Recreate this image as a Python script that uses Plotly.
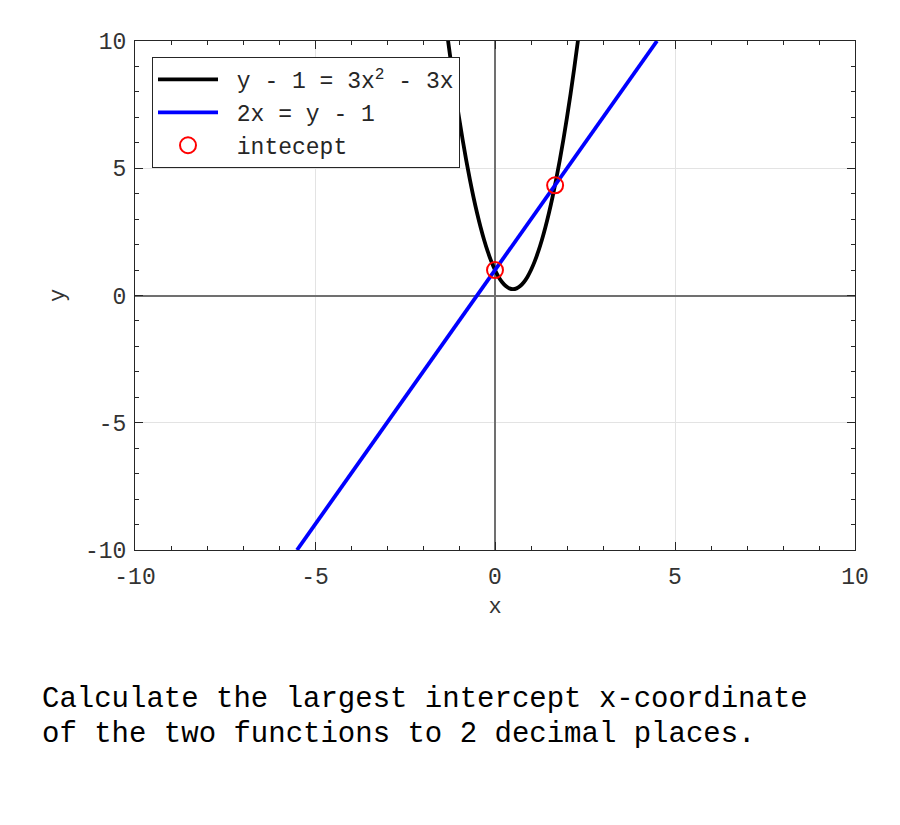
import plotly.graph_objects as go

# Parabola y - 1 = 3x^2 - 3x
curve_x = [-1.4, -1.3, -1.2, -1.1, -1.0, -0.9, -0.8, -0.7, -0.6, -0.5, -0.4, -0.3, -0.2, -0.1,
           0.0, 0.1, 0.2, 0.3, 0.4, 0.5, 0.6, 0.7, 0.8, 0.9, 1.0, 1.1, 1.2, 1.3, 1.4, 1.5,
           1.6, 1.7, 1.8, 1.9, 2.0, 2.1, 2.2, 2.3, 2.4]
curve_y = [11.08, 9.97, 8.92, 7.93, 7.0, 6.13, 5.32, 4.57, 3.88, 3.25, 2.68, 2.17, 1.72, 1.33,
           1.0, 0.73, 0.52, 0.37, 0.28, 0.25, 0.28, 0.37, 0.52, 0.73, 1.0, 1.33, 1.72, 2.17, 2.68, 3.25,
           3.88, 4.57, 5.32, 6.13, 7.0, 7.93, 8.92, 9.97, 11.08]

# Line 2x = y - 1
line_x = [-5.5, 4.5]
line_y = [-10.0, 10.0]

# Intercepts
int_x = [0.0, 1.67]
int_y = [1.0, 4.33]

tick_vals = [-10, -5, 0, 5, 10]
tick_text = ["-10", "-5", "0", "5", "10"]

series_names = ["y - 1 = 3x<sup>2</sup> - 3x", "2x = y - 1", "intecept"]

FONT = "Liberation Mono"
NB = "\u00a0"

fig = go.Figure()
fig.add_trace(go.Scatter(x=curve_x, y=curve_y, mode="lines", line=dict(color="black", width=3.8, shape="spline"),
                         name=NB + series_names[0]))
fig.add_trace(go.Scatter(x=line_x, y=line_y, mode="lines", line=dict(color="#0000ff", width=3.8),
                         name=NB + series_names[1]))
fig.add_trace(go.Scatter(x=int_x, y=int_y, mode="markers",
                         marker=dict(symbol="circle-open", size=16, color="red", line=dict(width=2, color="red")),
                         name=NB + series_names[2]))

axis_common = dict(
    range=[-10, 10], tickmode="array", tickvals=tick_vals, ticktext=tick_text,
    ticks="inside", ticklen=8, tickcolor="#262626", tickwidth=1,
    showline=True, linecolor="#262626", linewidth=1, mirror="ticks",
    showgrid=True, gridcolor="#e3e3e3", gridwidth=1,
    zeroline=True, zerolinecolor="#707070", zerolinewidth=1.5,
    minor=dict(ticks="inside", dtick=1, ticklen=4, tickcolor="#262626", showgrid=False),
    tickfont=dict(family=FONT, size=23, color="#333333"),
    fixedrange=True,
)

fig.update_xaxes(**axis_common, title=dict(text="x", font=dict(family=FONT, size=22, color="#333333"), standoff=8),
                 ticklabelstandoff=5)
fig.update_yaxes(**axis_common, title=dict(text="y", font=dict(family=FONT, size=22, color="#333333"), standoff=14),
                 ticklabelstandoff=3)

fig.update_layout(
    width=892, height=817,
    margin=dict(l=127, r=45, t=33, b=275),
    plot_bgcolor="white", paper_bgcolor="white",
    showlegend=True,
    legend=dict(x=(152 - 135) / 720, y=(550 - 57) / 509, xanchor="left", yanchor="top",
                bordercolor="#262626", borderwidth=1, bgcolor="white",
                font=dict(family=FONT, size=23, color="#262626"), itemwidth=60),
    annotations=[
        dict(text="Calculate the largest intercept x-coordinate", xref="paper", yref="paper",
             x=(40 - 135) / 720, y=(550 - 699) / 509, xanchor="left", yanchor="middle", showarrow=False,
             font=dict(family=FONT, size=29, color="black")),
        dict(text="of the two functions to 2 decimal places.", xref="paper", yref="paper",
             x=(40 - 135) / 720, y=(550 - 734) / 509, xanchor="left", yanchor="middle", showarrow=False,
             font=dict(family=FONT, size=29, color="black")),
    ],
)

fig.write_html("out.html")
